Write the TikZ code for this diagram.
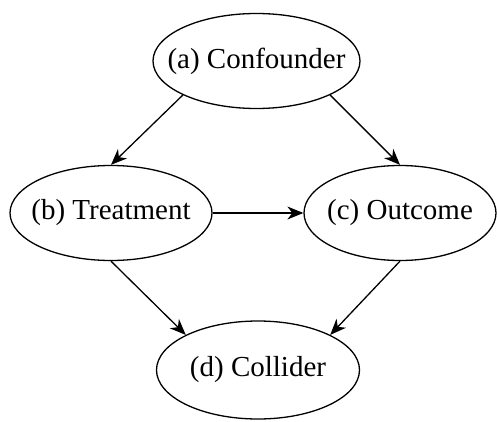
\documentclass[tikz,border=0pt]{standalone}
\usepackage{fontspec}
\setmainfont{Liberation Serif}
\usetikzlibrary{shapes.geometric,arrows.meta}
\begin{document}
\begin{tikzpicture}[x=1pt,y=-1pt,
  var/.style={ellipse,draw,line width=1.3pt,inner sep=0pt,minimum height=95pt,
    label={[font=\fontsize{29}{34}\selectfont]center:#1}},
  link/.style={line width=1.3pt,-{Stealth[length=16pt,width=13pt,inset=5pt]}}]
  \useasboundingbox (0,0) rectangle (497,422);
  \node[var={(a) Confounder},minimum width=207pt] (a) at (256.5,61) {};
  \node[var={(b) Treatment},minimum width=202pt] (b) at (111,213) {};
  \node[var={(c) Outcome},minimum width=192pt] (c) at (400,213) {};
  \node[var={(d) Collider},minimum width=203pt,minimum height=98pt] (d) at (258,370) {};
  \draw[link] (a.south west) -- (b.north);
  \draw[link] (a.south east) -- (c.north);
  \draw[link] (b.east) -- (c.west);
  \draw[link] (b.south) -- (d.north west);
  \draw[link] (c.south) -- (d.north east);
\end{tikzpicture}
\end{document}
